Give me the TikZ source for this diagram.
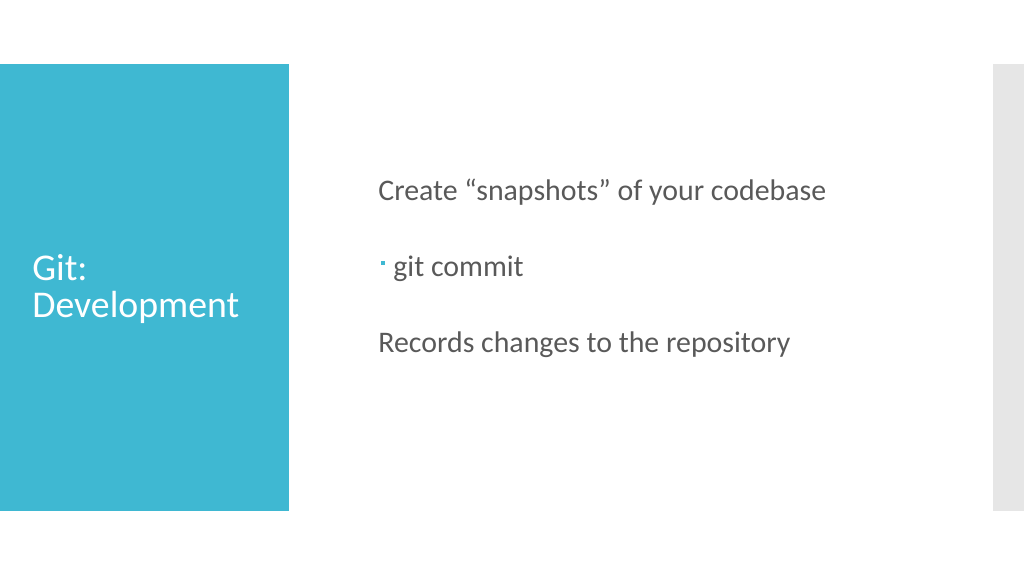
\documentclass[tikz,border=0pt]{standalone}
\usepackage{fontspec}
\setmainfont{Carlito}
\usetikzlibrary{positioning}
\definecolor{slideblue}{HTML}{3FB8D2}
\definecolor{slidegray}{HTML}{E6E6E6}
\definecolor{bodytext}{HTML}{595959}
\begin{document}
\begin{tikzpicture}[x=0.02cm,y=-0.02cm,
  title text/.style={anchor=west, text=white, font=\fontsize{21.5}{24}\selectfont, inner sep=0pt},
  body text/.style={anchor=west, text=bodytext, font=\fontsize{17}{20}\selectfont, inner sep=0pt}]
  % frame
  \useasboundingbox (0,0) rectangle (1024,576);
  \fill[slideblue] (0,64) rectangle (289,511);
  \fill[slidegray] (993,64) rectangle (1024,511);
  % title
  \node[title text] (git) at (32,268) {Git:};
  \node[title text] (dev) at (32,307) {Development};
  % body
  \node[body text] (snap) at (378,192) {Create “snapshots” of your codebase};
  \fill[slideblue] (381,261) rectangle (385,265);
  \node[body text] (commit) at (393,269) {git commit};
  \node[body text] (records) at (378,345) {Records changes to the repository};
\end{tikzpicture}
\end{document}
